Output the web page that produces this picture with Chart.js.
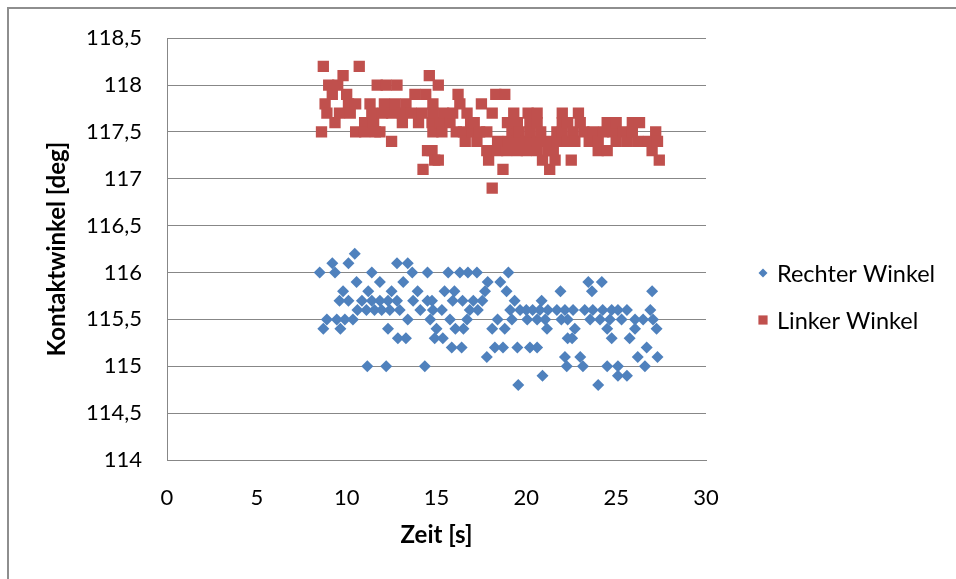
<!DOCTYPE html>
<html>
<head>
<meta charset="utf-8">
<title>Kontaktwinkel</title>
<script src="https://cdn.jsdelivr.net/npm/chart.js@4"></script>
<style>
  html, body { margin: 0; padding: 0; background: #fff; overflow: hidden; }
  #frame { position: absolute; left: 7px; top: 7px; width: 980px; height: 600px;
           border-left: 2px solid #8e8e8e; border-top: 2px solid #8e8e8e; }
  #chart { position: absolute; left: 0; top: 0; }
</style>
</head>
<body>
<div id="frame"></div>
<canvas id="chart" width="956" height="579"></canvas>
<script>
// Rechter Winkel (Zeit [s], Winkel [deg])
const zeitRechts = [
  8.5, 8.7, 8.9, 9.2, 9.35, 9.45, 9.6, 9.65, 9.8, 9.9, 10.1, 10.1, 10.35, 10.45, 10.55, 10.6,
  10.85, 11.1, 11.15, 11.2, 11.4, 11.4, 11.55, 11.85, 11.85, 11.95, 12.2, 12.3, 12.3, 12.4, 12.5,
  12.8, 12.8, 12.85, 12.95, 13.15, 13.3, 13.4, 13.4, 13.65, 13.7, 13.95, 14.1, 14.35, 14.5, 14.5,
  14.65, 14.75, 14.8, 14.9, 15.0, 15.3, 15.35, 15.45, 15.65, 15.75, 15.85, 15.9, 16.0, 16.05, 16.3,
  16.4, 16.45, 16.5, 16.7, 16.75, 16.85, 17.05, 17.25, 17.3, 17.55, 17.7, 17.8, 17.85, 18.1, 18.25,
  18.4, 18.55, 18.7, 18.8, 18.9, 19.0, 19.1, 19.2, 19.35, 19.5, 19.55, 19.65, 20.0, 20.05, 20.2,
  20.35, 20.6, 20.6, 20.75, 20.85, 20.9, 21.05, 21.15, 21.2, 21.7, 21.9, 21.95, 22.15, 22.15, 22.25,
  22.3, 22.3, 22.55, 22.6, 22.7, 23.0, 23.15, 23.25, 23.45, 23.55, 23.65, 23.7, 24.0, 24.1, 24.2,
  24.25, 24.5, 24.5, 24.65, 24.75, 24.75, 25.1, 25.1, 25.1, 25.3, 25.6, 25.6, 25.75, 26.05, 26.05,
  26.2, 26.5, 26.6, 26.7, 26.9, 27.0, 27.05, 27.25, 27.3
];
const rechterWinkel = [
  116.0, 115.4, 115.5, 116.1, 116.0, 115.5, 115.7, 115.4, 115.8, 115.5, 116.1, 115.7, 115.5, 116.2, 115.9, 115.6,
  115.7, 115.6, 115.0, 115.8, 116.0, 115.7, 115.6, 115.9, 115.7, 115.6, 115.0, 115.7, 115.4, 115.6, 115.8,
  116.1, 115.7, 115.3, 115.6, 115.9, 115.3, 116.1, 115.5, 116.0, 115.7, 115.8, 115.6, 115.0, 116.0, 115.7,
  115.5, 115.7, 115.6, 115.3, 115.4, 115.6, 115.3, 115.8, 116.0, 115.5, 115.2, 115.7, 115.8, 115.4, 116.0,
  115.2, 115.7, 115.4, 115.5, 116.0, 115.6, 115.7, 116.0, 115.6, 115.7, 115.8, 115.1, 115.9, 115.4, 115.2,
  115.5, 115.9, 115.2, 115.4, 115.8, 116.0, 115.6, 115.5, 115.7, 115.2, 114.8, 115.6, 115.6, 115.5, 115.2,
  115.6, 115.5, 115.2, 115.6, 115.7, 114.9, 115.5, 115.4, 115.6, 115.6, 115.8, 115.5, 115.6, 115.1, 115.0,
  115.5, 115.3, 115.3, 115.6, 115.4, 115.1, 115.0, 115.6, 115.9, 115.5, 115.8, 115.6, 114.8, 115.5, 115.9,
  115.6, 115.4, 115.0, 115.5, 115.6, 115.3, 115.6, 115.0, 114.9, 115.5, 115.6, 114.9, 115.3, 115.5, 115.4,
  115.1, 115.5, 115.0, 115.2, 115.6, 115.8, 115.5, 115.4, 115.1
];

// Linker Winkel (Zeit [s], Winkel [deg])
const zeitLinks = [
  8.6, 8.7, 8.8, 8.9, 9.0, 9.2, 9.35, 9.5, 9.6, 9.8, 10.0, 10.1, 10.2, 10.5, 10.5, 10.7, 11.0, 11.0,
  11.3, 11.4, 11.5, 11.6, 11.7, 11.85, 12.0, 12.1, 12.2, 12.5, 12.5, 12.7, 12.8, 13.1, 13.1, 13.3,
  13.6, 13.8, 14.0, 14.2, 14.25, 14.4, 14.5, 14.6, 14.75, 14.75, 14.8, 14.8, 14.8, 14.9, 15.1, 15.1,
  15.2, 15.3, 15.4, 15.75, 15.9, 16.1, 16.2, 16.3, 16.5, 16.6, 16.7, 16.9, 17.0, 17.1, 17.25, 17.4,
  17.5, 17.8, 17.8, 17.9, 18.1, 18.1, 18.3, 18.4, 18.4, 18.7, 18.8, 18.9, 18.95, 19.0, 19.2, 19.3,
  19.5, 19.5, 19.5, 19.6, 20.0, 20.0, 20.1, 20.2, 20.2, 20.6, 20.6, 20.6, 20.6, 20.8, 20.9, 21.15,
  21.2, 21.3, 21.5, 21.6, 21.7, 21.7, 22.0, 22.0, 22.0, 22.3, 22.3, 22.5, 22.6, 22.7, 22.9, 23.0,
  23.2, 23.5, 23.7, 24.0, 24.0, 24.3, 24.5, 24.5, 24.8, 25.0, 25.0, 25.4, 25.6, 25.9, 25.9, 26.2,
  26.3, 26.8, 27.0, 27.2, 27.3, 27.4
];
const linkerWinkel = [
  117.5, 118.2, 117.8, 117.7, 118.0, 117.9, 117.6, 118.0, 117.7, 118.1, 117.9, 117.8, 117.7, 117.8, 117.5, 118.2, 117.6, 117.5,
  117.8, 117.7, 117.6, 117.5, 118.0, 117.5, 117.7, 117.8, 118.0, 117.7, 117.4, 117.8, 118.0, 117.7, 117.6, 117.8,
  117.7, 117.9, 117.6, 117.7, 117.1, 117.9, 117.3, 118.1, 117.6, 117.3, 117.8, 117.7, 117.5, 117.2, 118.0, 117.2,
  117.6, 117.5, 117.7, 117.6, 117.7, 117.5, 117.9, 117.8, 117.5, 117.4, 117.7, 117.6, 117.5, 117.6, 117.4, 117.5,
  117.8, 117.5, 117.3, 117.2, 117.7, 116.9, 117.9, 117.4, 117.3, 117.1, 117.9, 117.3, 117.6, 117.4, 117.5, 117.7,
  117.6, 117.4, 117.3, 117.5, 117.4, 117.3, 117.7, 117.6, 117.5, 117.7, 117.6, 117.4, 117.3, 117.5, 117.2, 117.4,
  117.3, 117.1, 117.3, 117.2, 117.5, 117.4, 117.7, 117.6, 117.5, 117.6, 117.4, 117.2, 117.5, 117.4, 117.7, 117.6,
  117.5, 117.4, 117.5, 117.4, 117.3, 117.5, 117.6, 117.3, 117.5, 117.6, 117.4, 117.5, 117.4, 117.6, 117.5, 117.4,
  117.6, 117.4, 117.3, 117.5, 117.4, 117.2
];

const achsenText = '#000';
const gitterFarbe = '#878787';
const blau = '#4F81BD';
const rot = '#C0504D';

function punkte(zeit, winkel) {
  return zeit.map((t, i) => ({ x: t, y: winkel[i] }));
}

// Legende rechts neben dem Diagramm, im Stil der Excel-Vorlage
const legendePlugin = {
  id: 'legendeRechts',
  afterDraw(chart) {
    const ctx = chart.ctx;
    const eintraege = [
      { ds: chart.data.datasets[0], y: 273, r: 4.5 },
      { ds: chart.data.datasets[1], y: 320, r: 6.5 }
    ];
    ctx.save();
    ctx.font = '23.5px Lato';
    ctx.textBaseline = 'middle';
    ctx.textAlign = 'left';
    eintraege.forEach(e => {
      ctx.fillStyle = e.ds.backgroundColor;
      ctx.strokeStyle = e.ds.borderColor;
      ctx.lineWidth = 0;
      Chart.helpers.drawPoint(ctx, { pointStyle: e.ds.pointStyle, radius: e.r, borderWidth: 0 }, 763, e.y);
      ctx.fillStyle = achsenText;
      ctx.fillText(e.ds.label, 777, e.y + 1);
    });
    ctx.restore();
  }
};

new Chart(document.getElementById('chart'), {
  type: 'scatter',
  data: {
    datasets: [
      {
        label: 'Rechter Winkel',
        data: punkte(zeitRechts, rechterWinkel),
        pointStyle: 'rectRot',
        pointRadius: 6,
        backgroundColor: blau,
        borderColor: blau,
        borderWidth: 0
      },
      {
        label: 'Linker Winkel',
        data: punkte(zeitLinks, linkerWinkel),
        pointStyle: 'rect',
        pointRadius: 8,
        backgroundColor: rot,
        borderColor: rot,
        borderWidth: 0
      }
    ]
  },
  options: {
    responsive: false,
    animation: false,
    layout: { padding: { left: 0, top: 37, right: 250, bottom: 0 } },
    plugins: {
      legend: { display: false },
      tooltip: { enabled: false }
    },
    scales: {
      x: {
        type: 'linear',
        min: 0,
        max: 30,
        afterFit: s => { s.height = 119; },
        ticks: { stepSize: 5, color: achsenText, font: { family: 'Lato', size: 22 }, padding: 25, maxRotation: 0 },
        grid: { display: false, drawTicks: false },
        border: { display: true, color: gitterFarbe, width: 1 },
        title: { display: true, text: 'Zeit [s]', color: achsenText,
                 font: { family: 'Lato', size: 24, weight: 'bold' }, padding: { top: 0, bottom: 29 } }
      },
      y: {
        min: 114,
        max: 118.5,
        afterFit: s => { s.width = 167; },
        ticks: { stepSize: 0.5, color: achsenText, font: { family: 'Lato', size: 22 }, padding: 25,
                 callback: v => String(v).replace('.', ',') },
        grid: { color: gitterFarbe, lineWidth: 1, drawTicks: false },
        border: { display: true, color: gitterFarbe, width: 1 },
        title: { display: true, text: 'Kontaktwinkel [deg]', color: achsenText,
                 font: { family: 'Lato', size: 24, weight: 'bold' }, padding: { top: 43, bottom: 0 } }
      }
    }
  },
  plugins: [legendePlugin]
});
</script>
</body>
</html>
